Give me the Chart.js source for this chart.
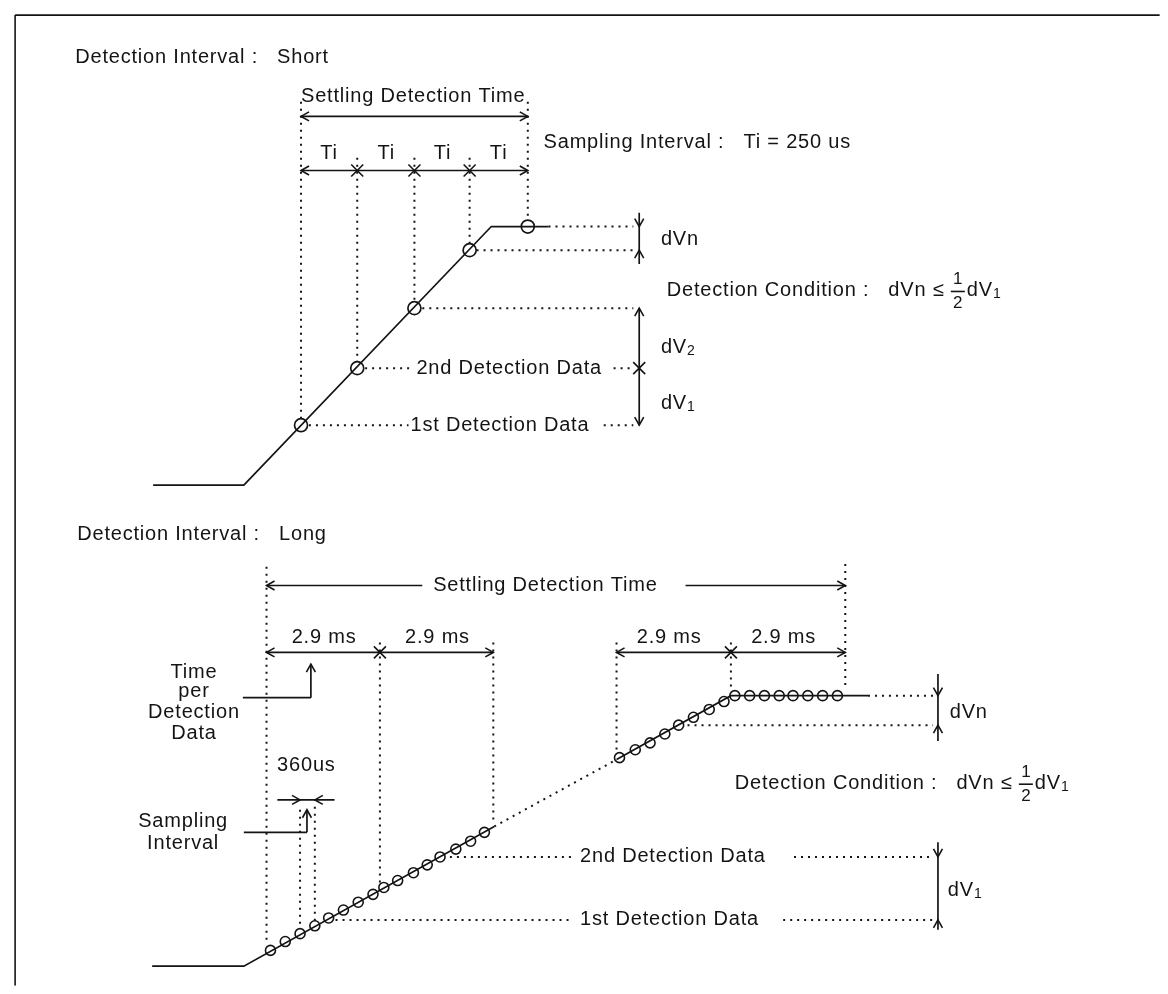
<!DOCTYPE html>
<html>
<head>
<meta charset="utf-8">
<script src="https://cdn.jsdelivr.net/npm/chart.js@4.4.0/dist/chart.umd.min.js"></script>
<style>
  html, body { margin: 0; padding: 0; background: #fff; }
  canvas { display: block; }
</style>
</head>
<body>
<canvas id="stage" width="1168" height="994"></canvas>
<script>
// ---- diagram data (x = time axis, y = level axis drawn downward) ----
// short detection interval
const shortWave = [[147,485],[239,485],[490,222],[548,222]];
const shortSamplesX = [297, 354, 412, 468, 527];
const shortSamplesY = [424, 366, 305, 246, 222];

// long detection interval
const longWaveA = [[146,974],[239,974],[493,832]];
const longWaveGap = [[493,832],[617,764]];
const longWaveB = [[617,764],[733,699],[872,699]];
const longSamplesX = [266,281,296,311,325,340,355,370,381,395,411,425,438,454,469,483,
                      620,636,651,666,680,695,711,726,
                      737,752,767,782,796,811,826,841];
const longSamplesY = [958,949,941,933,925,917,909,901,894,887,879,871,863,855,847,838,
                      762,754,747,738,729,721,713,705,
                      699,699,699,699,699,699,699,699];

// frame (only top and left edges show)
const frameLines = [[7,7,1168,7],[7,7,7,994]];

// dotted guide lines [x1,y1,x2,y2]
const guideLines = [
  [297,95,297,417],[527,95,527,215],[354,152,354,359],[412,152,412,298],[468,152,468,239],
  [548,222,634,222],[475,246,634,246],[420,305,634,305],
  [362,366,410,366],[614,366,634,366],[305,424,406,424],[604,424,634,424],
  [262,568,262,952],[377,645,377,890],[492,645,492,830],[617,645,617,757],[733,645,733,693],[849,565,849,693],
  [296,815,296,936],[311,812,311,928],
  [872,699,938,699],[689,729,938,729],
  [448,863,573,863],[797,863,938,863],[332,927,571,927],[786,927,938,927]
];

// solid dimension lines [x1,y1,x2,y2]
const dimLines = [
  [297,110,527,110],[297,165,527,165],[640,208,640,260],[640,305,640,424],
  [262,587,420,587],[687,587,849,587],[262,655,492,655],[617,655,849,655],
  [238,701,307,701],[307,701,307,667],[273,805,331,805],[239,838,303,838],[303,838,303,815],
  [943,677,943,745],[943,848,943,937]
];

// arrow tips [x, y, direction]
const arrowTips = [
  [297,110,'L'],[527,110,'R'],[297,165,'L'],[527,165,'R'],
  [640,222,'D'],[640,246,'U'],[640,305,'U'],[640,424,'D'],
  [262,587,'L'],[849,587,'R'],[262,655,'L'],[492,655,'R'],[617,655,'L'],[849,655,'R'],
  [307,667,'U'],[296,805,'R'],[311,805,'L'],[303,815,'U'],
  [943,699,'D'],[943,729,'U'],[943,863,'D'],[943,927,'U']
];

// cross marks [x, y]
const crossMarks = [[354,165],[412,165],[468,165],[640,366],[377,655],[733,655]];

// plain labels [text, x, y, align]
const labels = [
  ['Detection Interval :   Short', 68, 50, 'left'],
  ['Settling Detection Time', 297, 90, 'left'],
  ['Ti', 325, 148, 'center'], ['Ti', 383, 148, 'center'], ['Ti', 440, 148, 'center'], ['Ti', 497, 148, 'center'],
  ['Sampling Interval :   Ti = 250 us', 543, 137, 'left'],
  ['2nd Detection Data', 414, 366, 'left'],
  ['1st Detection Data', 408, 424, 'left'],
  ['Detection Interval :   Long', 70, 535, 'left'],
  ['Settling Detection Time', 431, 587, 'left'],
  ['2.9 ms', 320, 640, 'center'], ['2.9 ms', 435, 640, 'center'],
  ['2.9 ms', 670, 640, 'center'], ['2.9 ms', 786, 640, 'center'],
  ['Time', 188, 675, 'center'], ['per', 188, 695, 'center'],
  ['Detection', 188, 716, 'center'], ['Data', 188, 737, 'center'],
  ['360us', 302, 770, 'center'],
  ['Sampling', 177, 827, 'center'], ['Interval', 177, 849, 'center'],
  ['2nd Detection Data', 580, 863, 'left'],
  ['1st Detection Data', 580, 927, 'left']
];

// labels with subscript [main, subscript, x, y]
const subLabels = [
  ['dVn', '', 662, 235], ['dV', '2', 662, 345], ['dV', '1', 662, 402],
  ['dVn', '', 955, 716], ['dV', '1', 953, 897]
];

// detection condition formula anchors [x, y]
const conditions = [[668, 287], [737, 788]];

// ---- chart ----
const ink = '#141414';
const LW = 1.7;

function segment(pts, dashed, width) {
  return {
    type: 'line',
    data: pts.map(p => ({x: p[0], y: p[1]})),
    showLine: true,
    borderColor: ink,
    borderWidth: width || LW,
    borderDash: dashed ? [2, 5] : [],
    pointRadius: 0,
    fill: false,
    tension: 0
  };
}

const datasets = [];
frameLines.forEach(l => datasets.push(segment([[l[0], l[1]], [l[2], l[3]]], false, 1.6)));
datasets.push(segment(shortWave, false, LW));
datasets.push(segment(longWaveA, false, LW));
datasets.push(segment(longWaveGap, true, 2));
datasets.push(segment(longWaveB, false, LW));
guideLines.forEach(l => datasets.push(segment([[l[0], l[1]], [l[2], l[3]]], true, 2)));
dimLines.forEach(l => datasets.push(segment([[l[0], l[1]], [l[2], l[3]]], false, LW)));

datasets.push({
  type: 'scatter',
  data: shortSamplesX.map((x, i) => ({x: x, y: shortSamplesY[i]})),
  pointStyle: 'circle',
  pointRadius: 6.5,
  pointBorderWidth: 1.7,
  pointBorderColor: ink,
  pointBackgroundColor: 'rgba(0,0,0,0)'
});
datasets.push({
  type: 'scatter',
  data: longSamplesX.map((x, i) => ({x: x, y: longSamplesY[i]})),
  pointStyle: 'circle',
  pointRadius: 5,
  pointBorderWidth: 1.6,
  pointBorderColor: ink,
  pointBackgroundColor: 'rgba(0,0,0,0)'
});

const FONT = '"Liberation Sans", Arial, sans-serif';
const SPACING = '0.8px';

const annotate = {
  id: 'annotate',
  afterDatasetsDraw(chart) {
    const ctx = chart.ctx;
    const sx = chart.scales.x, sy = chart.scales.y;
    const X = v => sx.getPixelForValue(v);
    const Y = v => sy.getPixelForValue(v);
    ctx.save();
    ctx.strokeStyle = ink;
    ctx.fillStyle = ink;
    ctx.lineWidth = 1.6;

    // arrow heads (open V)
    arrowTips.forEach(a => {
      const x = X(a[0]), y = Y(a[1]);
      let dx = 0, dy = 0;
      if (a[2] === 'L') dx = 1; if (a[2] === 'R') dx = -1;
      if (a[2] === 'U') dy = 1; if (a[2] === 'D') dy = -1;
      const len = 8, half = 4.5;
      ctx.beginPath();
      ctx.moveTo(x + dx * len - dy * half, y + dy * len - dx * half);
      ctx.lineTo(x, y);
      ctx.lineTo(x + dx * len + dy * half, y + dy * len + dx * half);
      ctx.stroke();
    });

    // cross marks
    crossMarks.forEach(c => {
      const x = X(c[0]), y = Y(c[1]), s = 6;
      ctx.beginPath();
      ctx.moveTo(x - s, y - s); ctx.lineTo(x + s, y + s);
      ctx.moveTo(x - s, y + s); ctx.lineTo(x + s, y - s);
      ctx.stroke();
    });

    // text
    ctx.textBaseline = 'middle';
    ctx.letterSpacing = SPACING;
    ctx.font = '20px ' + FONT;
    labels.forEach(l => {
      ctx.textAlign = l[3];
      let x = X(l[1]);
      if (l[3] === 'center') x += 0.4;
      ctx.fillText(l[0], x, Y(l[2]));
    });

    ctx.textAlign = 'left';
    subLabels.forEach(s => {
      ctx.font = '20px ' + FONT;
      const x = X(s[2]), y = Y(s[3]);
      ctx.fillText(s[0], x, y);
      if (s[1]) {
        const w = ctx.measureText(s[0]).width;
        ctx.font = '14px ' + FONT;
        ctx.fillText(s[1], x + w, y + 4);
      }
    });

    conditions.forEach(c => {
      let x = X(c[0]);
      const y = Y(c[1]);
      ctx.font = '20px ' + FONT;
      const head = 'Detection Condition :   dVn \u2264 ';
      ctx.fillText(head, x, y);
      x += ctx.measureText(head).width + 1;
      // fraction 1/2
      ctx.font = '17px ' + FONT;
      ctx.letterSpacing = '0px';
      ctx.textAlign = 'center';
      ctx.fillText('1', x + 6, y - 11);
      ctx.fillText('2', x + 6, y + 13);
      ctx.beginPath();
      ctx.moveTo(x - 1, y + 1); ctx.lineTo(x + 13, y + 1);
      ctx.stroke();
      ctx.textAlign = 'left';
      ctx.letterSpacing = SPACING;
      x += 15;
      ctx.font = '20px ' + FONT;
      ctx.fillText('dV', x, y);
      x += ctx.measureText('dV').width;
      ctx.font = '14px ' + FONT;
      ctx.fillText('1', x, y + 4);
    });
    ctx.restore();
  }
};

new Chart(document.getElementById('stage'), {
  type: 'scatter',
  data: { datasets: datasets },
  options: {
    responsive: false,
    animation: false,
    events: [],
    layout: { padding: 0 },
    plugins: { legend: { display: false }, tooltip: { enabled: false } },
    scales: {
      x: { type: 'linear', min: 0, max: 1168, display: false },
      y: { type: 'linear', min: 0, max: 994, reverse: true, display: false }
    }
  },
  plugins: [annotate]
});
</script>
</body>
</html>
